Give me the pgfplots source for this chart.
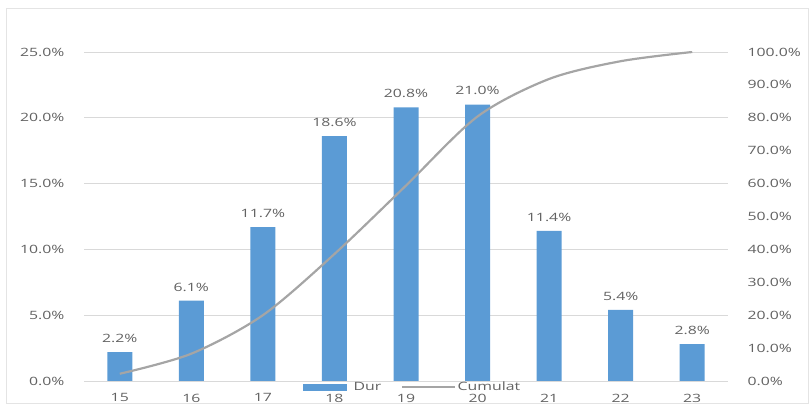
\documentclass[border=0pt]{standalone}
\usepackage{fontspec}
\setmainfont{Open Sans}[FakeStretch=1.38]
\usepackage{pgfplots}
\pgfplotsset{compat=1.18}
\definecolor{barblue}{HTML}{5B9BD5}
\definecolor{linegray}{HTML}{A5A5A5}
\definecolor{txt}{HTML}{626262}
\definecolor{gridc}{HTML}{D9D9D9}
\begin{document}
\begin{tikzpicture}
\useasboundingbox (0,0) rectangle (812bp,412bp);
\draw[gridc!70] (6bp,9bp) rectangle (808bp,404bp);
% percentage share per group
\begin{axis}[
  at={(84bp,31bp)}, anchor=south west,
  scale only axis, width=644bp, height=329bp,
  xmin=14.5, xmax=23.5, ymin=0, ymax=25,
  xtick={15,...,23}, ytick={0,5,...,25},
  axis line style={draw=none}, major tick style={draw=none},
  xmajorgrids=false, ymajorgrids=true,
  major grid style={draw=gridc, line width=0.8pt},
  font=\fontsize{11.5}{13}\selectfont\color{txt},
  /pgf/number format/assume math mode=true,
  yticklabel={\pgfmathprintnumber[fixed,fixed zerofill,precision=1]{\tick}\%},
  yticklabel style={xshift=-16bp},
  xticklabel style={yshift=-5bp},
  ybar, bar width=25bp,
  nodes near coords={\pgfmathprintnumber[fixed,fixed zerofill,precision=1]{\pgfplotspointmeta}\%},
  nodes near coords style={font=\fontsize{11.5}{13}\selectfont\color{txt}, yshift=6bp},
]
\addplot[fill=barblue, draw=none] coordinates {
(15,2.2) (16,6.1) (17,11.7) (18,18.6) (19,20.8) (20,21.0) (21,11.4) (22,5.4) (23,2.8)};
\end{axis}
% cumulative share
\begin{axis}[
  at={(84bp,31bp)}, anchor=south west,
  scale only axis, width=644bp, height=329bp,
  xmin=14.5, xmax=23.5, ymin=0, ymax=100,
  axis x line=none, axis y line*=right,
  ytick={0,10,...,100},
  axis line style={draw=none}, major tick style={draw=none},
  font=\fontsize{11.5}{13}\selectfont\color{txt},
  /pgf/number format/assume math mode=true,
  yticklabel={\pgfmathprintnumber[fixed,fixed zerofill,precision=1]{\tick}\%},
  yticklabel style={xshift=16bp},
  legend style={at={(0.340,-0.018)}, anchor=west, draw=none, fill=none,
    legend columns=2, font=\fontsize{11.5}{13}\selectfont\color{txt},
    inner sep=0pt,
    /tikz/every odd column/.append style={column sep=0bp},
    /tikz/every even column/.append style={column sep=18bp}},
]
\addlegendimage{legend image code/.code={\fill[barblue] (0bp,-3bp) rectangle (43bp,3bp); \path (48bp,0bp);}}
\addlegendentry{Dur}
\addplot[linegray, line width=2.2pt, smooth, tension=0.5,
  legend image code/.code={\draw[linegray, line width=1.5pt] (0bp,0bp) -- (53bp,0bp);}] coordinates {
(15,2.2) (16,8.3) (17,20.0) (18,38.6) (19,59.4) (20,80.4) (21,91.8) (22,97.2) (23,100.0)};
\addlegendentry{Cumulat}
\end{axis}
\end{tikzpicture}
\end{document}
